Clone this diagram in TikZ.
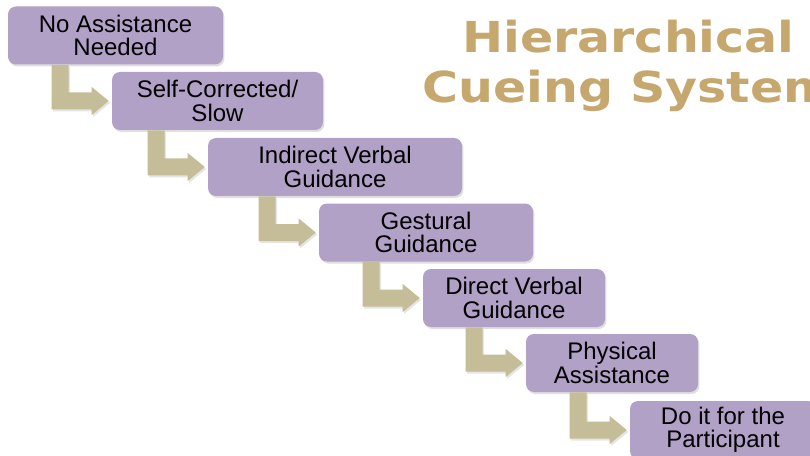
\documentclass[tikz,border=0pt]{standalone}
\usepackage{fontspec}
\setmainfont{Liberation Sans}
\newfontfamily\titlefont[FakeStretch=1.15]{DejaVu Sans}
\usepackage{xcolor}
\usetikzlibrary{calc, shadows}

\definecolor{boxpurple}{RGB}{178,161,199}
\definecolor{arrowtan}{RGB}{196,189,151}
\definecolor{titlegold}{RGB}{198,168,110}

\tikzset{
    cuebox/.style={fill=boxpurple, rounded corners=6pt, inner sep=0pt,
        minimum height=43.5pt, align=center,
        font=\fontsize{18pt}{17.6pt}\selectfont,
        drop shadow={shadow xshift=1pt, shadow yshift=-1.5pt, opacity=0.25}},
    bentarrow/.style={fill=arrowtan,
        drop shadow={shadow xshift=1pt, shadow yshift=-1.5pt, opacity=0.2}},
    titletext/.style={text=titlegold, inner sep=0pt,
        font=\titlefont\bfseries\fontsize{32pt}{37.5pt}\selectfont}
}

\begin{document}
\begin{tikzpicture}[x=0.75pt, y=-0.75pt]
    		\useasboundingbox (0,0) rectangle (810,456);
    		\clip (0,0) rectangle (810,456);
    		\fill[white] (0,0) rectangle (810,456);
    		
    		% cue levels
    		\node[cuebox, minimum width=161.25pt] (s1) at (115.5,35.5) {No Assistance\\Needed};
    		\node[cuebox, minimum width=158.25pt] (s2) at (217.5,101) {Self-Corrected/\\Slow};
    		\node[cuebox, minimum width=190.5pt] (s3) at (335,167) {Indirect Verbal\\Guidance};
    		\node[cuebox, minimum width=160.5pt] (s4) at (426,232.5) {Gestural\\Guidance};
    		\node[cuebox, minimum width=136.5pt] (s5) at (514,298) {Direct Verbal\\Guidance};
    		\node[cuebox, minimum width=129pt] (s6) at (612,363) {Physical\\Assistance};
    		\node[cuebox, minimum width=139.5pt] (s7) at (723,430) {Do it for the\\Participant};
    		
    		% bent arrows
    		\foreach \a/\b in {s1/s2, s2/s3, s3/s4, s4/s5, s5/s6, s6/s7}{
    			\fill[bentarrow] (\b.west) ++(-3,0) -- ++(-17,-14) -- ++(0,5.5)
    				-- ++(-23,0) coordinate (k) -- (k |- \a.south) -- ++(-17,0) coordinate (m)
    				-- (m |- \b.west) -- ++(0,8.5) -- ++(40,0) -- ++(0,5.5) -- cycle;
    		}
    		
    		\node[titletext, anchor=base] (title1) at (628.5,53) {Hierarchical};
    		\node[titletext, anchor=base] (title2) at (628.5,103) {Cueing System};
\end{tikzpicture}
\end{document}
